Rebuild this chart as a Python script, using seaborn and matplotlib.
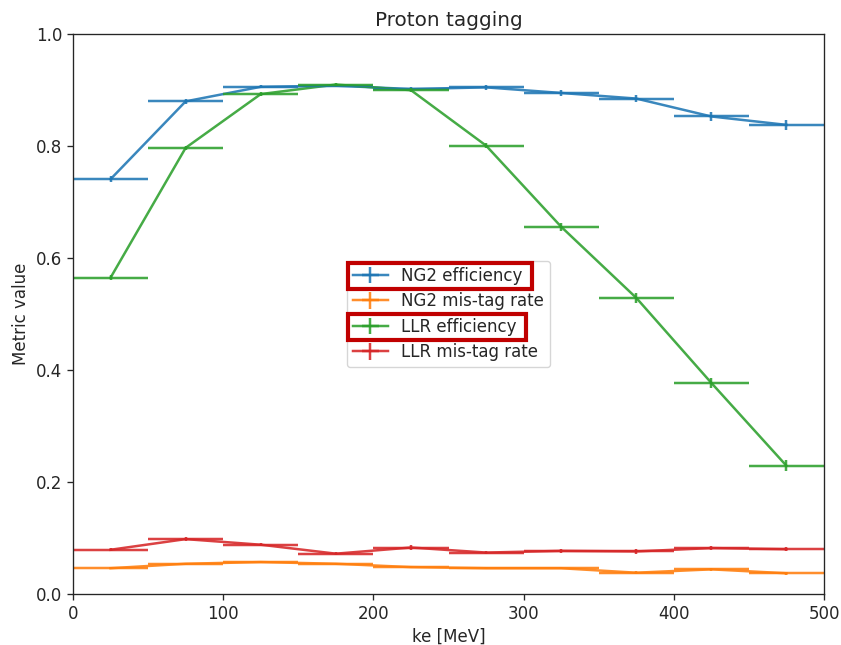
import numpy as np
import pandas as pd
import matplotlib
matplotlib.use("Agg")
import matplotlib.pyplot as plt
from matplotlib.patches import Rectangle
from matplotlib.lines import Line2D
import seaborn as sns

# Kinetic-energy bins (MeV): centres and half-widths
ke_centres = [25, 75, 125, 175, 225, 275, 325, 375, 425, 475]
ke_halfwidth = [25] * 10

ng2_eff = [0.741, 0.880, 0.906, 0.908, 0.902, 0.905, 0.895, 0.885, 0.853, 0.838]
ng2_eff_err = [0.005, 0.004, 0.003, 0.003, 0.003, 0.005, 0.005, 0.006, 0.008, 0.009]

ng2_mistag = [0.046, 0.054, 0.057, 0.054, 0.048, 0.046, 0.046, 0.038, 0.044, 0.037]
ng2_mistag_err = [0.002, 0.002, 0.002, 0.002, 0.002, 0.002, 0.002, 0.003, 0.003, 0.003]

llr_eff = [0.565, 0.797, 0.893, 0.910, 0.900, 0.801, 0.656, 0.529, 0.377, 0.229]
llr_eff_err = [0.004, 0.004, 0.003, 0.003, 0.003, 0.005, 0.007, 0.009, 0.009, 0.010]

llr_mistag = [0.079, 0.098, 0.088, 0.072, 0.083, 0.074, 0.077, 0.076, 0.082, 0.080]
llr_mistag_err = [0.003, 0.004, 0.003, 0.003, 0.004, 0.003, 0.003, 0.004, 0.004, 0.004]

series_labels = ["NG2 efficiency", "NG2 mis-tag rate", "LLR efficiency", "LLR mis-tag rate"]
highlighted = ["NG2 efficiency", "LLR efficiency"]

values = [ng2_eff, ng2_mistag, llr_eff, llr_mistag]
errors = [ng2_eff_err, ng2_mistag_err, llr_eff_err, llr_mistag_err]

frame = pd.concat(
    [pd.DataFrame({"ke": ke_centres, "value": v, "series": lab})
     for v, lab in zip(values, series_labels)],
    ignore_index=True,
)

scale = 1.2
plt.rcParams.update({
    "font.family": ["DejaVu Sans"],
    "font.size": 10 * scale,
    "axes.titlesize": 12 * scale,
    "axes.linewidth": 0.8 * scale,
    "xtick.major.size": 3.5 * scale,
    "ytick.major.size": 3.5 * scale,
    "xtick.major.width": 0.8 * scale,
    "ytick.major.width": 0.8 * scale,
    "text.color": "#262626",
    "axes.labelcolor": "#262626",
    "xtick.color": "#262626",
    "ytick.color": "#262626",
    "axes.edgecolor": "#262626",
})

palette = sns.color_palette("tab10", 4)
lw = 1.5 * scale
alpha = 0.88

fig = plt.figure(figsize=(8.41, 6.45), dpi=100)
ax = fig.add_axes([0.0868, 0.0791, 0.8930, 0.8679])

# connecting lines through the bin centres
sns.lineplot(data=frame, x="ke", y="value", hue="series", hue_order=series_labels,
             palette=palette, ax=ax, legend=False, linewidth=lw, sort=False, alpha=alpha)

# bin-width and statistical error bars; legend handle = line + error cross
handles = []
for v, e, lab, col in zip(values, errors, series_labels, palette):
    bars = ax.errorbar(ke_centres, v, xerr=ke_halfwidth, yerr=e, fmt="none",
                       ecolor=col, elinewidth=lw, alpha=alpha)
    line = Line2D([], [], color=col, linewidth=lw, alpha=alpha)
    handles.append((line, bars))

ax.set_xlim(0, 500)
ax.set_ylim(0, 1.0)
ax.set_title("Proton tagging")
ax.set_xlabel("ke [MeV]")
ax.set_ylabel("Metric value")

leg = ax.legend(handles=handles, labels=series_labels, loc="center",
                handlelength=2.1, borderpad=0.35, labelspacing=0.45)

# red boxes around the efficiency entries
fig.canvas.draw()
renderer = fig.canvas.get_renderer()
leg_box = leg.get_frame().get_window_extent(renderer)
inv = fig.transFigure.inverted()
for txt in leg.get_texts():
    if txt.get_text() in highlighted:
        tb = txt.get_window_extent(renderer)
        yc = 0.5 * (tb.y0 + tb.y1)
        x0, x1 = leg_box.x0 + 1, tb.x1 + 9
        y0, y1 = yc - 13, yc + 13
        (fx0, fy0) = inv.transform((x0, y0))
        (fx1, fy1) = inv.transform((x1, y1))
        fig.patches.append(Rectangle((fx0, fy0), fx1 - fx0, fy1 - fy0,
                                     transform=fig.transFigure, fill=False,
                                     edgecolor="#c00000", linewidth=3.0, zorder=10))

fig.savefig("out.png", dpi=100)
